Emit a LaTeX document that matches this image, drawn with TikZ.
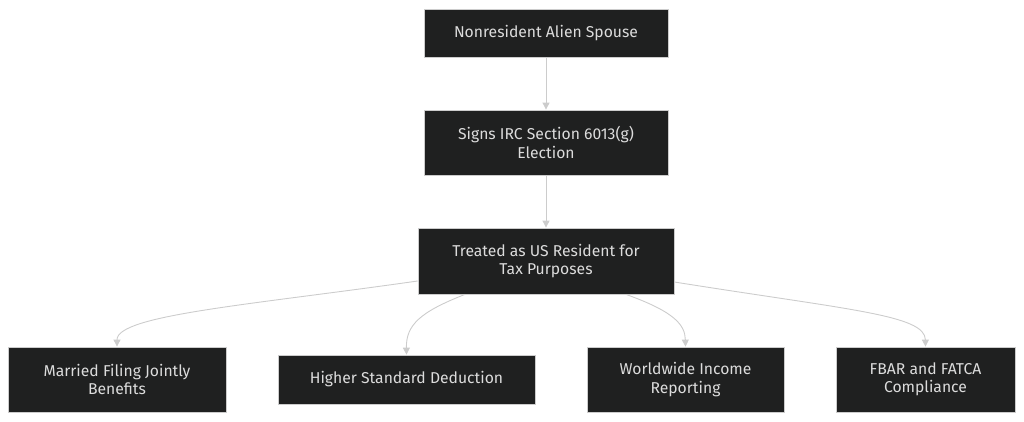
\documentclass[tikz,border=0pt]{standalone}
\usepackage{fontspec}
\setmainfont{Fira Sans}
\usepackage{tikz}
\usetikzlibrary{arrows.meta,positioning,calc}
\definecolor{boxfill}{HTML}{1F2020}
\definecolor{boxline}{HTML}{CCCCCC}
\definecolor{boxtext}{HTML}{DCDCDC}
\definecolor{edgeline}{HTML}{CCCCCC}

\begin{document}
\begin{tikzpicture}[x=1pt,y=-1pt,
  font=\fontsize{15.7}{18.5}\selectfont,
  box/.style={draw=boxline,line width=0.8pt,fill=boxfill,text=boxtext,align=center,inner sep=0pt},
  flow/.style={draw=edgeline,line width=0.9pt,-{Triangle[length=7pt,width=7pt]}}]
  \useasboundingbox (0,0) rectangle (1024,422);
  \node[box,minimum width=244,minimum height=48] (spouse) at (546,33) {Nonresident Alien Spouse};
  \node[box,minimum width=244,minimum height=65] (elect) at (546,142.5) {Signs IRC Section 6013(g)\\Election};
  \node[box,minimum width=256,minimum height=66] (resident) at (546,261) {Treated as US Resident for\\Tax Purposes};
  \node[box,minimum width=218,minimum height=65] (joint) at (117,379.5) {Married Filing Jointly\\Benefits};
  \node[box,minimum width=257,minimum height=49] (deduct) at (406.5,379.5) {Higher Standard Deduction};
  \node[box,minimum width=197,minimum height=65] (income) at (685.5,379.5) {Worldwide Income\\Reporting};
  \node[box,minimum width=179,minimum height=65] (fbar) at (925.5,379.5) {FBAR and FATCA\\Compliance};
  \draw[flow] (spouse) -- (elect);
  \draw[flow] (elect) -- (resident);
  \draw[flow] ($(resident.west)+(0,20)$) .. controls (250,305) and (117,315) .. (joint.north);
  \draw[flow] ($(resident.south)+(-81,0)$) .. controls (420,312) and (406,325) .. (deduct.north);
  \draw[flow] ($(resident.south)+(80,0)$) .. controls (675,312) and (685,325) .. (income.north);
  \draw[flow] ($(resident.east)+(0,21)$) .. controls (850,310) and (925,315) .. (fbar.north);
\end{tikzpicture}
\end{document}
